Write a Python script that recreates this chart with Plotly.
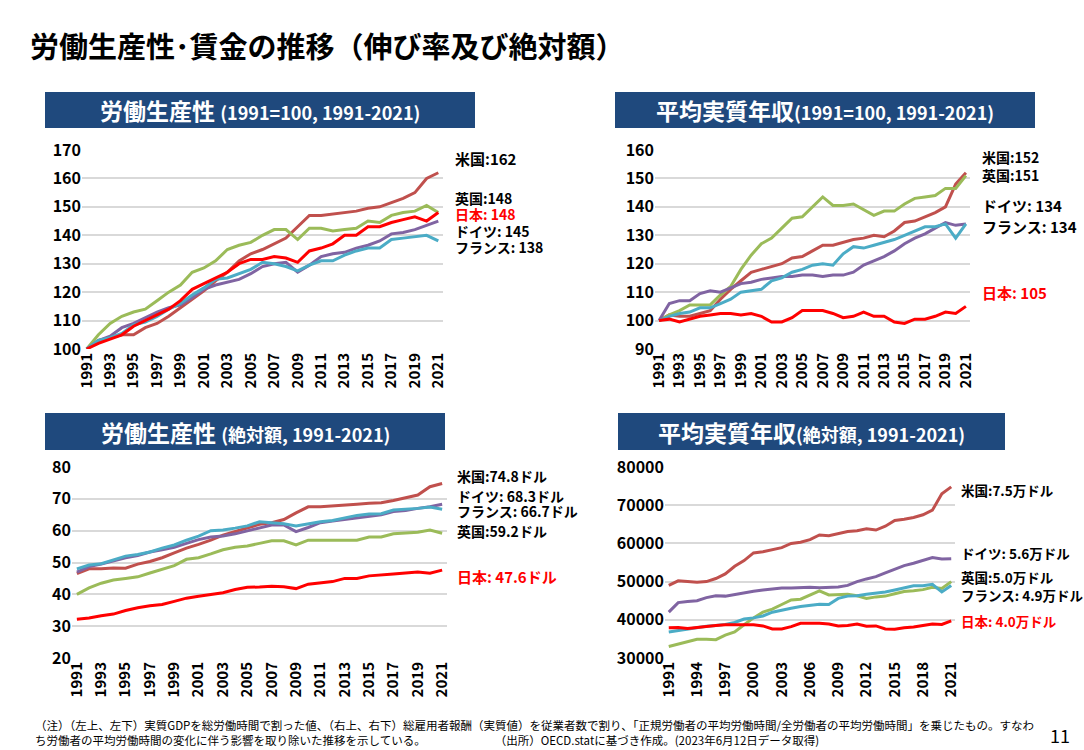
import plotly.graph_objects as go

W, H = 1084, 750
years = list(range(1991, 2022))

# Chart 1: labour productivity index
p_us = [100,103,104,105,105,107.5,109,111.5,114.5,117.5,120.5,124,127,131,133.5,135,137,139,143,147,147,147.5,148,148.5,149.5,150,151.5,153,155,160,162]
p_uk = [100,105,109,111.5,113,114,117,120,122.5,127,128.5,131,135,136.5,137.5,140,142,142,138.5,142.5,142.5,141.5,142,142.5,145,144.5,147,148,148.5,150.5,148]
p_jp = [100,102,103.5,105,108,110,112,114,117,121,123,125,127,130,131.5,131.5,132.5,132,130.5,134.5,135.5,137,140,140,143,143,144.5,145.5,146.5,145,148]
p_de = [100,103,104.5,107.5,109,111,113,114.5,115.5,118,121,122.5,123.5,124.5,126.5,129,130,130.5,127,129.5,132.5,133.5,134,135.5,136.5,138,140.5,141,142,143.5,145]
p_fr = [100,103,104,105.5,108.5,109.5,111.5,114,116,119,121.5,124.5,125,126.5,128,130.5,130,129,127.5,129.5,131,131,133,134.5,135.5,135.5,138.5,139,139.5,140,138]

# Chart 2: real average annual wage index
w_us = [100,102,101.5,101.5,102.5,103.5,107.5,111,114,117,118,119,120,122,122.5,124.5,126.5,126.5,127.5,128.5,129,130,129.5,131.5,134.5,135,136.5,138,140,148,152]
w_uk = [100,102,103.5,105.5,105.5,105.5,109,112,118,123,127,129,132.5,136,136.5,140,143.5,140.5,140.5,141,139,137,138.5,138.5,141,143,143.5,144,146.5,146.5,151]
w_jp = [100,100.5,99.5,100.5,101.5,102,102.5,102.5,102,102.5,101.5,99.5,99.5,101,103.5,103.5,103.5,102.5,101,101.5,103,101.5,101.5,99.5,99,100.5,100.5,101.5,103,102.5,105]
w_de = [100,106,107,107,109.5,110.5,110,111.5,113,113.5,114.5,115,115.5,115.5,116,116,115.5,116,116,117,119.5,121,122.5,124.5,127,129,130.5,132.5,134.5,133.5,134]
w_fr = [100,101.5,102.5,103,104.5,104.5,106,107.5,110,110.5,111,114,115,117,118,119.5,120,119.5,123.5,126,125.5,126.5,127.5,128.5,130,131.5,133,133,134,129,134]

# Chart 3: labour productivity, USD
a_us = [46.5,48,48,48.3,48.2,49.5,50.3,51.5,53,54.5,55.7,57,58.6,59.8,61,62,62.5,63.5,65.6,67.5,67.5,67.7,68,68.3,68.6,68.8,69.5,70.3,71.2,73.8,74.8]
a_de = [47,48.7,49.5,50.5,51.5,52.2,53.3,54,54.8,56,57.2,58,58.3,59,60,61,61.8,61.8,59.7,61,62.5,63,63.5,64,64.5,65,66,66.3,67,67.5,68.3]
a_fr = [48,49.2,49.6,50.8,52,52.5,53.3,54.5,55.5,57,58.3,60,60.2,60.8,61.5,62.8,62.5,62.2,61.5,62.2,62.8,63.2,64,64.8,65.2,65.3,66.5,66.7,67,67.4,66.7]
a_uk = [40,42,43.5,44.5,45,45.5,46.7,47.8,49,51,51.5,52.7,54,54.8,55.2,56,56.8,56.8,55.5,57,57,56.8,57,57,58,58,59,59.2,59.5,60.2,59.2]
a_jp = [32.2,32.6,33.3,33.8,34.9,35.8,36.4,36.8,37.8,38.8,39.4,40,40.5,41.5,42.2,42.3,42.5,42.4,41.8,43.2,43.5,44,45,45,45.8,46,46.4,46.7,47,46.6,47.6]

# Chart 4: real average annual wage, USD
s_us = [49000,50200,50000,49800,50000,50800,52000,54000,55500,57500,57800,58300,58900,60000,60300,61000,62200,62000,62500,63100,63300,63800,63500,64500,66000,66300,66800,67500,68700,73000,74800]
s_de = [42000,44500,44800,45000,45800,46300,46200,46700,47200,47500,47800,48100,48300,48300,48400,48500,48400,48500,48600,49000,50000,50700,51300,52300,53300,54200,54800,55500,56300,55900,56000]
s_uk = [33000,33700,34300,34900,34900,34800,36000,36800,38700,40500,42000,42800,44000,45200,45400,46600,47600,46500,46600,46700,46300,45600,46000,46200,46800,47400,47600,47900,48500,48200,50000]
s_fr = [36800,37200,37600,37800,38300,38500,38800,39300,40200,40500,41000,42000,42400,43000,43500,43800,44100,44000,45600,46200,46300,46700,47000,47300,47800,48300,48900,48900,49300,47300,49000]
s_jp = [37900,38000,37700,38000,38300,38500,38700,38700,38600,38700,38400,37600,37600,38200,39100,39100,39100,38900,38400,38500,38900,38300,38400,37600,37500,37900,38100,38500,38900,38800,39700]

C_US, C_UK, C_JP, C_DE, C_FR = "#C0504D", "#9BBB59", "#FF0000", "#8064A2", "#4BACC6"
NAVY = "#1F497D"
FONT = "Noto Sans CJK JP"

def px(x): return x / W
def py(y): return 1 - y / H

fig = go.Figure()

panels = [
    ("", (82, 443), (150, 349), (100, 170), 10, 2,
     [(p_us, C_US), (p_uk, C_UK), (p_de, C_DE), (p_fr, C_FR), (p_jp, C_JP)]),
    ("2", (655, 970), (150, 349), (90, 160), 10, 2,
     [(w_us, C_US), (w_uk, C_UK), (w_de, C_DE), (w_fr, C_FR), (w_jp, C_JP)]),
    ("3", (72, 447), (467, 658), (20, 80), 10, 2,
     [(a_us, C_US), (a_uk, C_UK), (a_de, C_DE), (a_fr, C_FR), (a_jp, C_JP)]),
    ("4", (665, 955), (467, 658), (30000, 80000), 10000, 3,
     [(s_us, C_US), (s_uk, C_UK), (s_de, C_DE), (s_fr, C_FR), (s_jp, C_JP)]),
]

for suf, (x0, x1), (yt, yb), yr, dty, dtx, series in panels:
    for vals, col in series:
        fig.add_trace(go.Scatter(x=years, y=vals, mode="lines", line=dict(color=col, width=3),
                                 xaxis="x" + suf, yaxis="y" + suf, showlegend=False, hoverinfo="skip"))
    fig.layout["xaxis" + suf] = dict(domain=[px(x0), px(x1)], anchor="y" + suf, range=[1990.6, 2021.4],
                                     tickmode="linear", tick0=1991, dtick=dtx, tickangle=-90, showgrid=False,
                                     zeroline=False, showline=False, ticks="", automargin=False,
                                     tickfont=dict(family=FONT, size=15, color="black", weight="bold"))
    fig.layout["yaxis" + suf] = dict(domain=[py(yb), py(yt)], anchor="x" + suf, range=list(yr), dtick=dty,
                                     showgrid=True, gridcolor="#D9D9D9", gridwidth=2, zeroline=False,
                                     tickformat="d", automargin=False,
                                     tickfont=dict(family=FONT, size=16, color="black", weight="bold"))

headers = [
    ((45, 92, 475, 128), "<b>労働生産性 </b><b style='font-size:18px'>(1991=100, 1991-2021)</b>"),
    ((615, 92, 1035, 128), "<b>平均実質年収</b><b style='font-size:18px'>(1991=100, 1991-2021)</b>"),
    ((45, 413, 445, 450), "<b>労働生産性 </b><b style='font-size:18px'>(絶対額, 1991-2021)</b>"),
    ((618, 413, 1005, 450), "<b>平均実質年収</b><b style='font-size:18px'>(絶対額, 1991-2021)</b>"),
]
shapes, ann = [], []
for (x0, y0, x1, y1), t in headers:
    shapes.append(dict(type="rect", xref="paper", yref="paper", x0=px(x0), x1=px(x1), y0=py(y1), y1=py(y0),
                       fillcolor=NAVY, line=dict(width=0), layer="below"))
    ann.append(dict(xref="paper", yref="paper", x=px((x0 + x1) / 2), y=py((y0 + y1) / 2), text=t, showarrow=False,
                    font=dict(family=FONT, size=23, color="white"), xanchor="center", yanchor="middle"))

labels = [
    (453, 158, "米国:162", "black", 15), (453, 198, "英国:148", "black", 14), (453, 214, "日本: 148", "red", 14),
    (453, 231, "ドイツ: 145", "black", 14), (453, 247, "フランス: 138", "black", 14),
    (980, 157, "米国:152", "black", 14), (980, 175, "英国:151", "black", 14),
    (980, 206, "ドイツ: 134", "black", 15), (980, 226, "フランス: 134", "black", 15), (980, 292, "日本: 105", "red", 15),
    (455, 476, "米国:74.8ドル", "black", 14), (455, 496, "ドイツ: 68.3ドル", "black", 14),
    (455, 511, "フランス: 66.7ドル", "black", 14), (455, 531, "英国:59.2ドル", "black", 14),
    (455, 576, "日本: 47.6ドル", "red", 15),
    (959, 490, "米国:7.5万ドル", "black", 13.5), (959, 553, "ドイツ: 5.6万ドル", "black", 13.5),
    (959, 577, "英国:5.0万ドル", "black", 13.5), (959, 595, "フランス: 4.9万ドル", "black", 13.5),
    (959, 621, "日本: 4.0万ドル", "red", 13.5),
]
for x, y, t, c, s in labels:
    ann.append(dict(xref="paper", yref="paper", x=px(x), y=py(y), text="<b>" + t + "</b>", showarrow=False,
                    xanchor="left", yanchor="middle", font=dict(family=FONT, size=s, color=c)))

ann.append(dict(xref="paper", yref="paper", x=px(28), y=py(45), text="<b>労働生産性･賃金の推移（伸び率及び絶対額）</b>",
                showarrow=False, xanchor="left", yanchor="middle", font=dict(family=FONT, size=29, color="black")))
ann.append(dict(xref="paper", yref="paper", x=px(33), y=py(732),
                text="（注）（左上、左下）実質GDPを総労働時間で割った値、（右上、右下）総雇用者報酬（実質値）を従業者数で割り、「正規労働者の平均労働時間/全労働者の平均労働時間」を乗じたもの。すなわ<br>ち労働者の平均労働時間の変化に伴う影響を取り除いた推移を示している。　　　　　　　（出所）OECD.statに基づき作成。(2023年6月12日データ取得)",
                showarrow=False, xanchor="left", yanchor="middle", align="left",
                font=dict(family=FONT, size=11.5, color="black")))
ann.append(dict(xref="paper", yref="paper", x=px(1072), y=py(735), text="11", showarrow=False,
                xanchor="right", yanchor="middle", font=dict(family=FONT, size=18, color="black")))

fig.update_layout(width=W, height=H, margin=dict(l=0, r=0, t=0, b=0, pad=0, autoexpand=False),
                  plot_bgcolor="white", paper_bgcolor="white", shapes=shapes, annotations=ann,
                  font=dict(family=FONT))
fig.write_html("out.html", config={"displayModeBar": False})

with open("out.html", encoding="utf-8") as f:
    html = f.read()
html = html.replace("<head>", "<head><style>html,body{margin:0;padding:0;overflow:hidden;}</style>", 1)
with open("out.html", "w", encoding="utf-8") as f:
    f.write(html)
